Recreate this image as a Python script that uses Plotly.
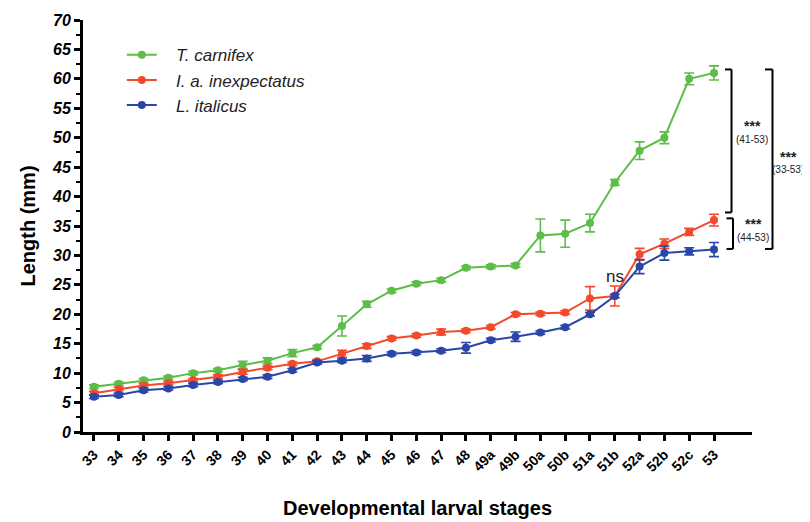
import plotly.graph_objects as go

stages = ["33", "34", "35", "36", "37", "38", "39", "40", "41", "42", "43", "44", "45",
          "46", "47", "48", "49a", "49b", "50a", "50b", "51a", "51b", "52a", "52b", "52c", "53"]

carnifex = [7.7, 8.2, 8.8, 9.2, 10.0, 10.5, 11.4, 12.1, 13.4, 14.4, 18.0, 21.7, 24.0,
            25.2, 25.8, 27.9, 28.1, 28.3, 33.4, 33.7, 35.5, 42.4, 47.8, 50.0, 60.0, 61.0]
carnifex_err = [0.3, 0.3, 0.3, 0.3, 0.3, 0.3, 0.6, 0.5, 0.6, 0.3, 1.7, 0.5, 0.3,
                0.3, 0.3, 0.3, 0.3, 0.3, 2.8, 2.3, 1.5, 0.5, 1.5, 1.0, 1.0, 1.2]

inexpectatus = [6.6, 7.3, 7.9, 8.3, 8.8, 9.4, 10.2, 10.9, 11.6, 12.0, 13.3, 14.6, 15.9,
                16.4, 17.0, 17.2, 17.8, 20.0, 20.1, 20.3, 22.7, 23.1, 30.2, 32.0, 34.0, 36.0]
inexpectatus_err = [0.3, 0.3, 0.3, 0.3, 0.3, 0.3, 0.4, 0.3, 0.3, 0.3, 0.6, 0.4, 0.3,
                    0.3, 0.5, 0.3, 0.3, 0.3, 0.3, 0.3, 2.0, 1.7, 1.0, 0.8, 0.6, 1.0]

italicus = [6.0, 6.3, 7.1, 7.4, 8.0, 8.5, 9.0, 9.4, 10.5, 11.8, 12.1, 12.5, 13.3,
            13.5, 13.8, 14.3, 15.6, 16.2, 16.9, 17.8, 20.0, 23.1, 28.1, 30.4, 30.7, 31.0]
italicus_err = [0.3, 0.3, 0.3, 0.3, 0.3, 0.3, 0.3, 0.3, 0.3, 0.3, 0.3, 0.5, 0.3,
                0.3, 0.3, 0.9, 0.3, 0.8, 0.3, 0.3, 0.3, 0.3, 1.2, 1.2, 0.6, 1.2]

series = [
    ("T. carnifex", carnifex, carnifex_err, "#5dbd48"),
    ("I. a. inexpectatus", inexpectatus, inexpectatus_err, "#f24a2b"),
    ("L. italicus", italicus, italicus_err, "#2a46a8"),
]

xs = list(range(len(stages)))
FONT = "Liberation Sans, Arial, sans-serif"

fig = go.Figure()
for name, vals, err, col in series:
    fig.add_trace(go.Scatter(
        x=xs, y=vals, name="   " + name, mode="lines+markers",
        line=dict(color=col, width=2),
        marker=dict(color=col, size=8),
        error_y=dict(type="data", array=err, visible=True, color=col, thickness=1.6, width=5),
    ))

# page offset (body margin) compensation
OFF = 8
# plot area in screen pixels
L, R, T, B = 83, 752, 20, 432
W = R - L
def px(p):
    return (p - L) / W

brackets = [
    (725, 731.5, 61.6, 37.3),
    (726.5, 733.0, 36.3, 31.1),
    (765, 772.5, 61.6, 31.1),
]
shapes = []
for x0, x1, ytop, ybot in brackets:
    shapes.append(dict(type="line", xref="paper", yref="y", x0=px(x0), x1=px(x1), y0=ytop, y1=ytop,
                       line=dict(color="black", width=2)))
    shapes.append(dict(type="line", xref="paper", yref="y", x0=px(x1), x1=px(x1), y0=ytop, y1=ybot,
                       line=dict(color="black", width=2)))
    shapes.append(dict(type="line", xref="paper", yref="y", x0=px(x0), x1=px(x1), y0=ybot, y1=ybot,
                       line=dict(color="black", width=2)))

annotations = []
sig = [(752, 52.0, 49.7, "(41-53)"), (753, 35.3, 33.0, "(44-53)"), (788, 46.8, 44.6, "(33-53)")]
for xp, ys, yl, lab in sig:
    annotations.append(dict(xref="paper", yref="y", x=px(xp), y=ys, text="<b>***</b>",
                            xanchor="center", yanchor="middle",
                            showarrow=False, font=dict(family=FONT, size=14, color="#222")))
    annotations.append(dict(xref="paper", yref="y", x=px(xp), y=yl, text=lab,
                            xanchor="center", yanchor="middle",
                            showarrow=False, font=dict(family=FONT, size=10, color="#222")))
annotations.append(dict(xref="x", yref="y", x=stages.index("51b"), y=26.4, text="ns",
                        xanchor="center", yanchor="middle",
                        showarrow=False, font=dict(family=FONT, size=17, color="#222")))

fig.update_layout(
    width=810, height=522,
    margin=dict(l=L - OFF, r=810 - (R - OFF), t=T - OFF, b=522 - (B - OFF)),
    plot_bgcolor="white", paper_bgcolor="white",
    font=dict(family=FONT, color="black"),
    showlegend=True,
    legend=dict(x=0.058, y=0.958, xanchor="left", yanchor="top",
                font=dict(family=FONT, size=17, style="italic", color="#222"),
                bgcolor="rgba(0,0,0,0)", tracegroupgap=0, itemwidth=30),
    shapes=shapes,
    annotations=annotations,
    xaxis=dict(
        range=[-0.44, (R - 94) / 24.8], tickmode="array", tickvals=xs, ticktext=stages,
        tickangle=-45, tickfont=dict(family=FONT, size=14, weight="bold"),
        showline=True, linecolor="black", linewidth=3, mirror=False,
        ticks="outside", ticklen=6, tickwidth=2.5, tickcolor="black",
        showgrid=False, zeroline=False, automargin=False,
        title=dict(text="<b>Developmental larval stages</b>", font=dict(family=FONT, size=20), standoff=28),
    ),
    yaxis=dict(
        range=[0, 70], tickmode="linear", tick0=0, dtick=5,
        tickfont=dict(family=FONT, size=16, weight="bold", style="italic"),
        showline=True, linecolor="black", linewidth=3,
        ticks="outside", ticklen=6, tickwidth=2.5, tickcolor="black",
        minor=dict(dtick=2.5, ticks="outside", ticklen=4, tickwidth=2, tickcolor="black", showgrid=False),
        showgrid=False, zeroline=False, automargin=False,
        title=dict(text="<b>Length (mm)</b>", font=dict(family=FONT, size=20), standoff=12),
    ),
)

fig.write_html("out.html")
